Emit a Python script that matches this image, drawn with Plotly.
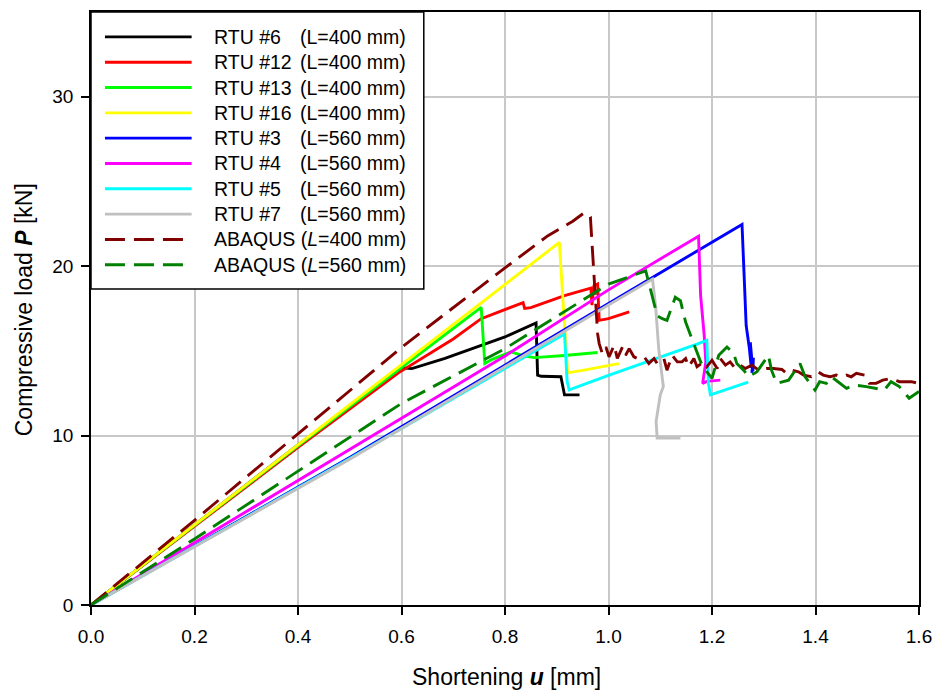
import plotly.graph_objects as go

# ---- measured load-shortening curves: shortening u [mm], load P [kN] ----
rtu6_u = [0, 0.40, 0.60, 0.62, 0.684, 0.748, 0.80, 0.86, 0.863, 0.87, 0.908, 0.915, 0.944]
rtu6_p = [0, 9.45, 14.0, 13.95, 14.55, 15.23, 15.82, 16.65, 13.57, 13.5, 13.47, 12.4, 12.4]

rtu12_u = [0, 0.40, 0.594, 0.70, 0.754, 0.835, 0.838, 0.85, 0.915, 0.966, 0.968, 0.972, 0.979, 0.982, 1.00, 1.04]
rtu12_p = [0, 9.3, 13.7, 15.7, 16.9, 17.85, 17.5, 17.55, 18.26, 18.7, 17.7, 18.85, 18.95, 16.8, 16.9, 17.3]

rtu13_u = [0, 0.40, 0.754, 0.761, 0.775, 0.812, 0.835, 0.857, 0.915, 0.979]
rtu13_p = [0, 9.4, 17.57, 14.25, 14.5, 14.94, 14.7, 14.6, 14.73, 14.9]

rtu16_u = [0, 0.40, 0.905, 0.913, 0.921, 0.95, 1.02]
rtu16_p = [0, 9.45, 21.4, 17.5, 13.7, 13.85, 14.25]

rtu3_u = [0, 0.50, 1.00, 1.258, 1.262, 1.266, 1.272, 1.276, 1.274, 1.279, 1.28, 1.277]
rtu3_p = [0, 8.7, 17.8, 22.46, 19.5, 16.5, 15.2, 14.0, 15.5, 13.8, 14.6, 13.7]

rtu4_u = [0, 0.40, 0.80, 1.00, 1.174, 1.178, 1.185, 1.188, 1.182, 1.19, 1.216]
rtu4_p = [0, 7.35, 14.7, 18.6, 21.77, 18.26, 15.9, 14.35, 13.08, 13.2, 13.27]

rtu5_u = [0, 0.50, 0.915, 0.92, 0.924, 1.00, 1.171, 1.19, 1.193, 1.197, 1.27]
rtu5_p = [0, 8.65, 16.0, 13.2, 12.7, 13.55, 15.4, 15.62, 13.08, 12.4, 13.15]

rtu7_u = [0, 0.50, 1.00, 1.085, 1.091, 1.097, 1.104, 1.106, 1.10, 1.094, 1.092, 1.094, 1.139]
rtu7_p = [0, 8.6, 17.7, 19.24, 17.66, 15.13, 13.37, 12.9, 12.4, 11.23, 10.84, 9.86, 9.86]

# ---- finite element results ----
fe400_u = [0, 0.20, 0.40, 0.60, 0.80, 0.883, 0.931, 0.953, 0.965, 0.972, 0.979,
           0.982, 0.988, 0.995, 1.001, 1.011, 1.017, 1.027, 1.033, 1.040, 1.049, 1.056,
           1.069, 1.078, 1.088, 1.094, 1.107, 1.113, 1.123, 1.133, 1.142, 1.149, 1.155,
           1.165, 1.171, 1.184, 1.190, 1.200, 1.210, 1.216, 1.226, 1.235, 1.245, 1.254,
           1.264, 1.277, 1.290, 1.306, 1.319, 1.335, 1.344, 1.354, 1.367, 1.377, 1.392,
           1.405, 1.415, 1.428, 1.440, 1.450, 1.460, 1.469, 1.479, 1.495, 1.504, 1.517,
           1.530, 1.546, 1.562, 1.585, 1.600]
fe400_p = [0, 5.0, 10.1, 15.2, 19.9, 21.8, 22.65, 23.15, 22.9, 19.2, 16.0,
           15.43, 14.84, 15.23, 14.65, 15.33, 14.55, 15.23, 14.74, 15.13, 14.65, 14.55,
           14.65, 14.25, 14.55, 14.25, 14.55, 13.86, 14.74, 14.35, 14.35, 14.55, 14.06,
           14.55, 14.06, 14.35, 14.06, 14.45, 13.96, 14.55, 14.16, 14.35, 13.96, 14.16,
           13.96, 14.16, 13.86, 13.96, 13.96, 13.9, 13.67, 13.86, 13.76, 13.57, 13.47,
           13.76, 13.57, 13.47, 13.57, 13.47, 13.57, 13.47, 13.67, 13.57, 13.08, 13.08,
           13.27, 13.37, 13.18, 13.18, 13.08]

fe560_u = [0, 0.20, 0.40, 0.60, 0.80, 1.00, 1.072, 1.094, 1.104, 1.113, 1.129, 1.139,
           1.149, 1.159, 1.169, 1.178, 1.190, 1.200, 1.213, 1.229, 1.242, 1.248, 1.261,
           1.271, 1.287, 1.309, 1.315, 1.325, 1.348, 1.370, 1.380, 1.399, 1.408, 1.421,
           1.431, 1.460, 1.476, 1.498, 1.533, 1.546, 1.562, 1.581, 1.600]
fe560_p = [0, 3.9, 7.9, 11.9, 15.13, 18.94, 19.72, 17.08, 16.9, 16.8, 18.16, 17.96,
           16.7, 15.9, 15.13, 14.35, 13.77, 13.37, 14.74, 15.23, 14.84, 14.25, 13.86,
           13.47, 13.77, 14.74, 13.86, 13.08, 13.27, 14.25, 13.47, 12.69, 13.18, 13.08,
           13.47, 12.79, 12.98, 12.89, 12.69, 13.18, 12.89, 12.2, 12.6]

series_names = ["RTU #6", "RTU #12", "RTU #13", "RTU #16", "RTU #3", "RTU #4", "RTU #5", "RTU #7",
                "ABAQUS", "ABAQUS"]
series_lengths = ["(L=400 mm)", "(L=400 mm)", "(L=400 mm)", "(L=400 mm)",
                  "(L=560 mm)", "(L=560 mm)", "(L=560 mm)", "(L=560 mm)",
                  "(<i>L</i>=400 mm)", "(<i>L</i>=560 mm)"]
series_u = [rtu6_u, rtu12_u, rtu13_u, rtu16_u, rtu3_u, rtu4_u, rtu5_u, rtu7_u, fe400_u, fe560_u]
series_p = [rtu6_p, rtu12_p, rtu13_p, rtu16_p, rtu3_p, rtu4_p, rtu5_p, rtu7_p, fe400_p, fe560_p]
colors = ["#000000", "#ff0000", "#00ff00", "#ffff00", "#0000ff", "#ff00ff", "#00ffff", "#c0c0c0",
          "#800000", "#008000"]
dashed = [False] * 8 + [True, True]

x_ticks = [0.0, 0.2, 0.4, 0.6, 0.8, 1.0, 1.2, 1.4, 1.6]
y_ticks = [0, 10, 20, 30]

# ---- page geometry (pixels) ----
W, H = 942, 695
ML, MR, MT, MB = 91, 20, 10, 90
PW, PH = W - ML - MR, H - MT - MB


def px(x):
    return (x - ML) / PW


def py(y):
    return (H - MB - y) / PH


DASH = "20px,9px"
LW = 2.9
FONT = "Liberation Sans, Arial, sans-serif"

fig = go.Figure()
for u, p, c, d in zip(series_u, series_p, colors, dashed):
    fig.add_trace(go.Scatter(
        x=u, y=p, mode="lines", showlegend=False,
        line=dict(color=c, width=LW, dash=DASH if d else "solid"),
    ))

# ---- boxed legend ----
shapes = [dict(type="rect", xref="paper", yref="paper",
               x0=px(91), x1=px(425), y0=py(288), y1=py(10),
               line=dict(color="black", width=1.5), fillcolor="white", layer="above")]
annotations = []
row_y = [35, 60.4, 85.8, 111.2, 136.6, 162, 187.4, 212.8, 238.2, 263.6]
for i, (name, length, c, d) in enumerate(zip(series_names, series_lengths, colors, dashed)):
    yy = py(row_y[i])
    shapes.append(dict(type="line", xref="paper", yref="paper",
                       x0=px(105), x1=px(192), y0=yy, y1=yy, layer="above",
                       line=dict(color=c, width=LW, dash=DASH if d else "solid")))
    if d:
        annotations.append(dict(xref="paper", yref="paper", x=px(212), y=yy,
                                xanchor="left", yanchor="middle", showarrow=False,
                                text=name + " " + length,
                                font=dict(family=FONT, size=19.5, color="black")))
    else:
        annotations.append(dict(xref="paper", yref="paper", x=px(212), y=yy,
                                xanchor="left", yanchor="middle", showarrow=False,
                                text=name, font=dict(family=FONT, size=19.5, color="black")))
        annotations.append(dict(xref="paper", yref="paper", x=px(299), y=yy,
                                xanchor="left", yanchor="middle", showarrow=False,
                                text=length, font=dict(family=FONT, size=19.5, color="black")))

# ---- axis titles ----
annotations.append(dict(xref="paper", yref="paper", x=px(508), y=py(677),
                        xanchor="center", yanchor="middle", showarrow=False,
                        text="Shortening <b><i>u</i></b> [mm]",
                        font=dict(family=FONT, size=23, color="black")))
annotations.append(dict(xref="paper", yref="paper", x=px(24), y=py(309),
                        xanchor="center", yanchor="middle", showarrow=False, textangle=-90,
                        text="Compressive load <b><i>P</i></b> [kN]",
                        font=dict(family=FONT, size=23, color="black")))

axis_common = dict(
    showline=True, linecolor="black", linewidth=1.5, mirror=True,
    showgrid=True, gridcolor="#c8c8c8", gridwidth=1.5,
    ticks="outside", ticklen=8, tickwidth=1.5, tickcolor="black",
    zeroline=False, tickfont=dict(family=FONT, size=19, color="black"),
)

fig.update_layout(
    width=W, height=H,
    margin=dict(l=ML, r=MR, t=MT, b=MB),
    paper_bgcolor="white", plot_bgcolor="white",
    xaxis=dict(range=[0, 1.6], tickvals=x_ticks, ticktext=[f"{v:.1f}" for v in x_ticks],
               ticklabelstandoff=5, **axis_common),
    yaxis=dict(range=[0, 35], tickvals=y_ticks, ticktext=[str(v) for v in y_ticks],
               ticklabelstandoff=4, **axis_common),
    shapes=shapes, annotations=annotations,
)

fig.write_html("out.html")
